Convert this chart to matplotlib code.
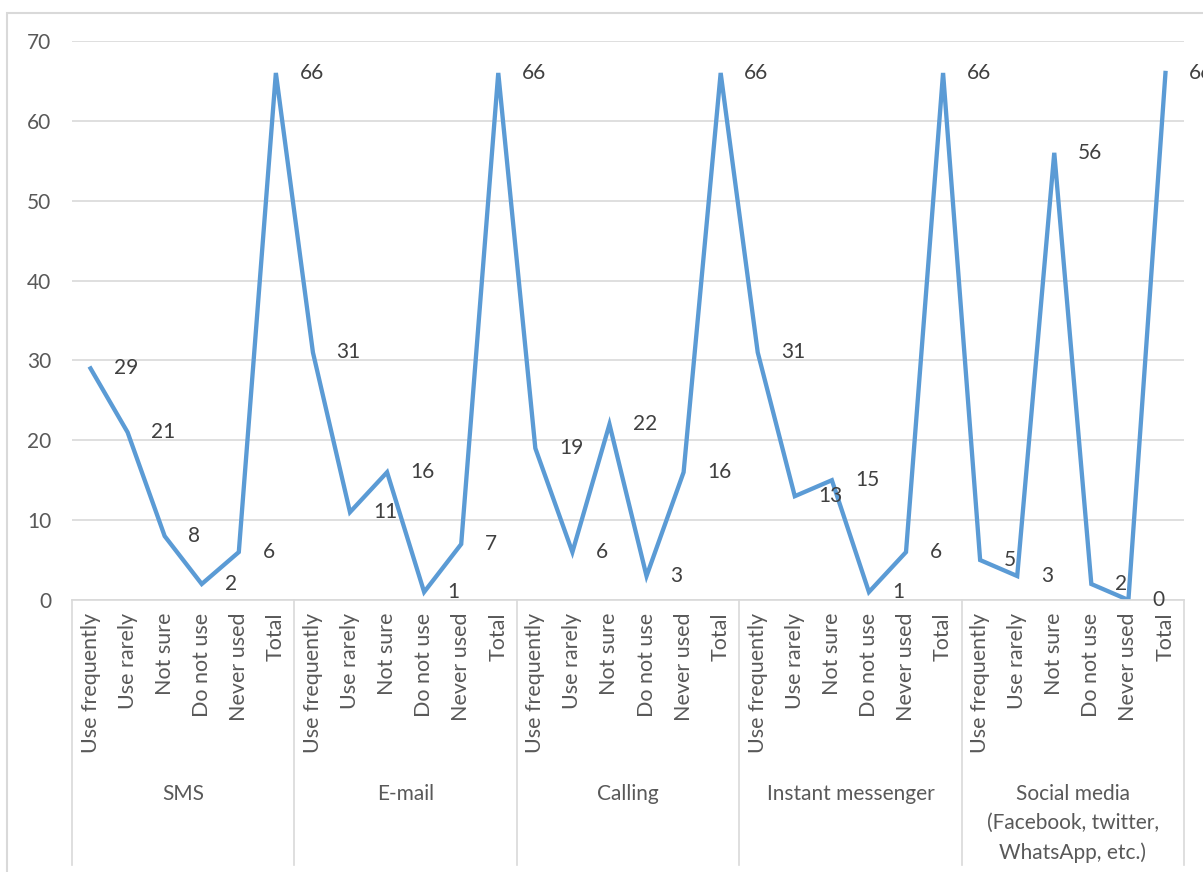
import matplotlib.pyplot as plt
from matplotlib.patches import Rectangle

# data
groups = ["SMS", "E-mail", "Calling", "Instant messenger",
          "Social media\n(Facebook, twitter,\nWhatsApp, etc.)"]
answers = ["Use frequently", "Use rarely", "Not sure", "Do not use", "Never used", "Total"]
sms = [29, 21, 8, 2, 6, 66]
email = [31, 11, 16, 1, 7, 66]
calling = [19, 6, 22, 3, 16, 66]
messenger = [31, 13, 15, 1, 6, 66]
social = [5, 3, 56, 2, 0, 66]

values = sms + email + calling + messenger + social
labels = answers * len(groups)
x = list(range(len(values)))

plt.rcParams['font.family'] = ['Lato', 'DejaVu Sans']
grey = "#595959"
line_grey = "#D9D9D9"

fig = plt.figure(figsize=(12.03, 8.72), dpi=100)
ax = fig.add_axes([72 / 1203, 1 - 600 / 872, (1184 - 72) / 1203, 559 / 872])

ax.plot(x, values, color="#5B9BD5", linewidth=3.1, solid_joinstyle="miter")
for xi, v in zip(x, values):
    ax.annotate(str(v), (xi, v), xytext=(17, 0), textcoords="offset points",
                ha="left", va="center", fontsize=15, color="#404040",
                annotation_clip=False)

ax.set_xlim(-0.5, len(values) - 0.5)
ax.set_ylim(0, 70)
ax.set_yticks(range(0, 71, 10))
ax.set_xticks(x)
ax.set_xticklabels(labels, rotation=90, va="top", ha="center")
ax.tick_params(axis="x", length=0, pad=9, labelsize=15.5, labelcolor=grey)
ax.tick_params(axis="y", length=0, pad=15, labelsize=15, labelcolor=grey)
ax.grid(axis="y", color=line_grey, linewidth=1.2)
ax.set_axisbelow(True)
for s in ["top", "right", "left"]:
    ax.spines[s].set_visible(False)
ax.spines["bottom"].set_color(line_grey)
ax.spines["bottom"].set_linewidth(1.2)

# group separators and group names below the category labels
ax_h = 559
bottom = -(865 - 600) / ax_h
for i in range(len(groups) + 1):
    xs = i * len(answers) - 0.5
    ax.plot([xs, xs], [0, bottom], transform=ax.get_xaxis_transform(),
            color=line_grey, linewidth=1.2, clip_on=False)
for i, g in enumerate(groups):
    xc = i * len(answers) + (len(answers) - 1) / 2
    ax.text(xc, -(784 - 600) / ax_h, g, transform=ax.get_xaxis_transform(),
            ha="center", va="top", fontsize=15, color=grey, linespacing=1.55)

# chart frame
fig.patches.append(Rectangle((7 / 1203, -0.01), 1.0, 1 - 13 / 872 + 0.01,
                             transform=fig.transFigure, fill=False,
                             edgecolor=line_grey, linewidth=1.5))

plt.savefig("out.png", dpi=100)
